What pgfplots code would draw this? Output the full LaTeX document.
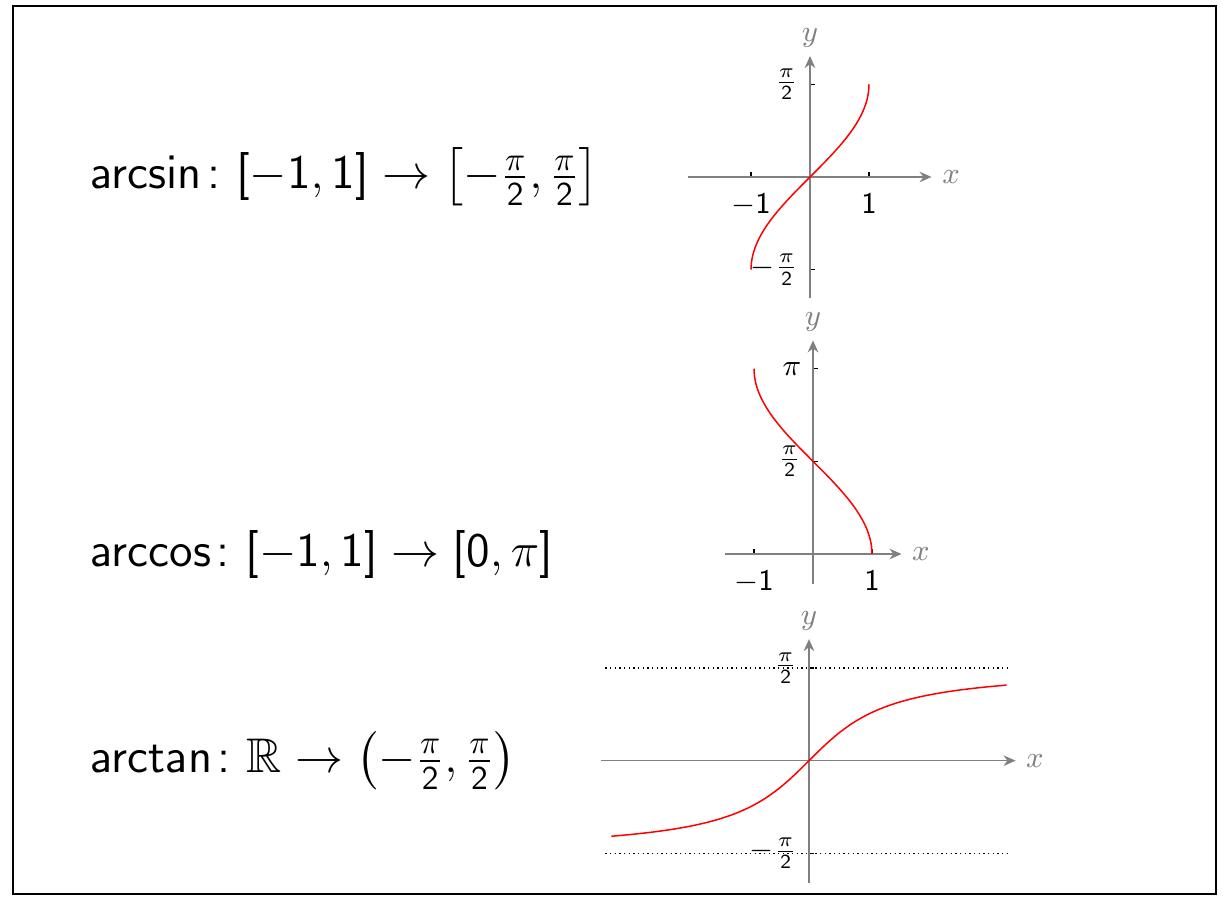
\documentclass[border=0pt]{standalone}
\usepackage{amsmath,amssymb}
\usepackage{pgfplots}
\pgfplotsset{compat=1.18}
\usetikzlibrary{arrows.meta}
\SetSymbolFont{operators}{normal}{OT1}{cmss}{m}{n}
\SetSymbolFont{operators}{bold}{OT1}{cmss}{bx}{n}
\pgfplotsset{myax/.style={
  axis lines=middle, x=17.7pt, y=17.7pt, clip=false,
  axis line style={gray, line width=0.4pt, -{Stealth[length=3.6pt,width=3.2pt]}},
  tick align=inside, major tick length=1.4pt,
  every tick/.style={black, line width=0.4pt},
  tick label style={font=\fontsize{8.8}{10}\selectfont, text=black},
  xlabel={$x$}, ylabel={$y$},
  every axis x label/.style={at={(current axis.right of origin)}, anchor=west,
     text=gray, font=\fontsize{9.5}{10}\selectfont, inner sep=3pt},
  every axis y label/.style={at={(current axis.above origin)}, anchor=south,
     text=gray, font=\fontsize{9.5}{10}\selectfont, inner sep=2.5pt},
  xticklabel style={yshift=-1.5pt},
}}
\begin{document}
\begin{tikzpicture}
\useasboundingbox (0,0) rectangle (366.9pt,-270pt);
\draw[line width=0.6pt] (3.75pt,-1.8pt) rectangle (364.65pt,-268.2pt);
% texts
\begin{scope}[every node/.style={anchor=west, inner sep=0pt, font=\fontsize{14.6}{17}\selectfont}]
\node at (27pt,-53.1pt) {$\arcsin\colon [-1,1]\to\left[-\frac{\pi}{2},\frac{\pi}{2}\right]$};
\node at (27pt,-166.2pt) {$\arccos\colon [-1,1]\to[0,\pi]$};
\node at (27pt,-228.2pt) {$\arctan\colon \mathbb{R}\to\left(-\frac{\pi}{2},\frac{\pi}{2}\right)$};
\end{scope}
% arcsin
\begin{axis}[myax, at={(243pt,-53.1pt)}, anchor=origin,
  xmin=-2.06, xmax=2.06, ymin=-2.05, ymax=2.05,
  xtick={-1,1}, ytick={-1.5708,1.5708},
  yticklabels={$-\frac{\pi}{2}$,$\frac{\pi}{2}$}]
\addplot[red, line width=0.45pt, smooth] coordinates {
(-1,-1.5708) (-0.99144,-1.4399) (-0.96593,-1.3090) (-0.92388,-1.1781)
(-0.86603,-1.0472) (-0.79335,-0.9163) (-0.70711,-0.7854) (-0.60876,-0.6545)
(-0.5,-0.5236) (-0.38268,-0.3927) (-0.25882,-0.2618) (-0.13053,-0.1309)
(0,0) (0.13053,0.1309) (0.25882,0.2618) (0.38268,0.3927) (0.5,0.5236)
(0.60876,0.6545) (0.70711,0.7854) (0.79335,0.9163) (0.86603,1.0472)
(0.92388,1.1781) (0.96593,1.3090) (0.99144,1.4399) (1,1.5708)};
\end{axis}
% arccos
\begin{axis}[myax, at={(243.9pt,-166.2pt)}, anchor=origin,
  xmin=-1.5, xmax=1.5, ymin=-0.5, ymax=3.62,
  xtick={-1,1}, ytick={1.5708,3.1416},
  yticklabels={$\frac{\pi}{2}$,$\pi$}]
\addplot[red, line width=0.45pt, smooth] coordinates {
(1,0) (0.99144,0.1309) (0.96593,0.2618) (0.92388,0.3927) (0.86603,0.5236)
(0.79335,0.6545) (0.70711,0.7854) (0.60876,0.9163) (0.5,1.0472)
(0.38268,1.1781) (0.25882,1.3090) (0.13053,1.4399) (0,1.5708)
(-0.13053,1.7017) (-0.25882,1.8326) (-0.38268,1.9635) (-0.5,2.0944)
(-0.60876,2.2253) (-0.70711,2.3562) (-0.79335,2.4871) (-0.86603,2.6180)
(-0.92388,2.7489) (-0.96593,2.8798) (-0.99144,3.0107) (-1,3.1416)};
\end{axis}
% arctan
\begin{axis}[myax, at={(242.7pt,-228.2pt)}, anchor=origin,
  xmin=-3.53, xmax=3.5, ymin=-2.07, ymax=2.06,
  xtick=\empty, ytick={-1.5708,1.5708},
  yticklabels={$-\frac{\pi}{2}$,$\frac{\pi}{2}$}]
\addplot[black, line width=0.35pt, dash pattern=on 0.4pt off 1.0pt] coordinates {(-3.45,1.5708) (3.4,1.5708)};
\addplot[black, line width=0.35pt, dash pattern=on 0.4pt off 1.0pt] coordinates {(-3.45,-1.5708) (3.4,-1.5708)};
\addplot[red, line width=0.45pt, smooth] coordinates {
(-3.35,-1.28071) (-3.25,-1.27230) (-3,-1.24905) (-2.75,-1.22203) (-2.5,-1.19029)
(-2.25,-1.15257) (-2,-1.10715) (-1.75,-1.05165) (-1.5,-0.98279) (-1.25,-0.89606)
(-1,-0.78540) (-0.75,-0.64350) (-0.5,-0.46365) (-0.25,-0.24498) (0,0)
(0.25,0.24498) (0.5,0.46365) (0.75,0.64350) (1,0.78540) (1.25,0.89606)
(1.5,0.98279) (1.75,1.05165) (2,1.10715) (2.25,1.15257) (2.5,1.19029)
(2.75,1.22203) (3,1.24905) (3.25,1.27230) (3.35,1.28071)};
\end{axis}
\end{tikzpicture}
\end{document}
